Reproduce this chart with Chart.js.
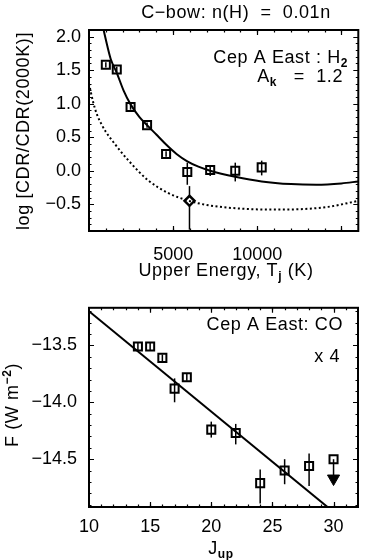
<!DOCTYPE html>
<html>
<head>
<meta charset="utf-8">
<script src="https://cdn.jsdelivr.net/npm/chart.js@4.4.1/dist/chart.umd.min.js"></script>
<style>
  html, body { margin: 0; padding: 0; background: #fff; }
  #h2Chart { position: absolute; left: 0; top: 0; }
  #coChart { position: absolute; left: 0; top: 285px; }
</style>
</head>
<body>
<canvas id="h2Chart" width="366" height="285"></canvas>
<canvas id="coChart" width="366" height="275"></canvas>
<script>
const FONT = "'Liberation Sans', Arial, sans-serif";

// Top panel - H2 column density ratio vs upper energy
const h2Energy = [1000, 1650, 2470, 3450, 4580, 5840, 7200, 8690, 10260];
const h2Ratio  = [1.58, 1.51, 0.95, 0.68, 0.25, -0.02, 0.01, 0.00, 0.05];
const h2Low    = [1.54, 1.47, 0.91, 0.64, 0.21, -0.21, -0.08, -0.16, -0.07];
const h2High   = [1.62, 1.55, 0.99, 0.72, 0.29, 0.12, 0.08, 0.12, 0.15];

const h2DiamondE    = [5970];
const h2Diamond     = [-0.45];
const h2DiamondLow  = [-0.88];
const h2DiamondHigh = [-0.23];

// C-bow model curves
const modelE     = [850, 1100, 1300, 1650, 2050, 2470, 3000, 3450, 4000, 4580, 5200, 5840, 6500, 7200, 8690, 10260, 12000, 13500, 15000, 16000];
const modelSolid = [2.12, 1.85, 1.66, 1.46, 1.20, 0.99, 0.80, 0.68, 0.54, 0.39, 0.25, 0.14, 0.06, 0.00, -0.09, -0.16, -0.20, -0.21, -0.19, -0.16];
const dottedE    = [0, 250, 500, 750, 1000, 1500, 2350, 3500, 4680, 5940, 7200, 9330, 11000, 12500, 14200, 16000];
const modelDot   = [1.30, 1.02, 0.82, 0.69, 0.58, 0.41, 0.15, -0.14, -0.33, -0.45, -0.52, -0.57, -0.58, -0.575, -0.54, -0.45];

const h2XLabels = [5000, 10000];
const h2XMajor  = [0, 5000, 10000, 15000];
const h2YTicks  = [-0.5, 0, 0.5, 1, 1.5, 2];

// Bottom panel - CO line fluxes
const coJ    = [14, 15, 16, 17, 18, 20, 22, 24, 26, 28, 30];
const coFlux = [-13.51, -13.51, -13.61, -13.88, -13.78, -14.24, -14.27, -14.71, -14.60, -14.56, -14.50];
const coLow  = [-13.54, -13.54, -13.64, -14.00, -13.81, -14.31, -14.37, -14.89, -14.72, -14.735, -14.64];
const coHigh = [-13.48, -13.48, -13.58, -13.79, -13.75, -14.17, -14.19, -14.59, -14.50, -14.45, -14.50];

const coLimitJ = [30];
const coLimit  = [-14.67];

const coFitJ = [10, 32];
const coFit  = [-13.20, -15.14];

const coXTicks = [10, 15, 20, 25, 30];
const coYTicks = [-14.5, -14.0, -13.5];

function pts(xs, ys) {
  return xs.map((x, i) => ({ x: x, y: ys[i] }));
}

function fmt(v, d) {
  return v.toFixed(d).replace('-', '\u2212');
}

// draws text with sub/superscript pieces
function richText(ctx, parts, x, y, align, rot) {
  ctx.save();
  ctx.translate(x, y);
  if (rot) ctx.rotate(rot);
  ctx.fillStyle = '#000';
  ctx.textAlign = 'left';
  ctx.textBaseline = 'alphabetic';
  ctx.letterSpacing = '0.6px';
  const fontOf = p => (p.sub || p.sup) ? 'bold 12px ' + FONT : '18px ' + FONT;
  const widths = parts.map(p => { ctx.font = fontOf(p); return ctx.measureText(p.t).width; });
  const total = widths.reduce((a, b) => a + b, 0);
  let cx = align === 'center' ? -total / 2 : align === 'right' ? -total : 0;
  parts.forEach((p, i) => {
    ctx.font = fontOf(p);
    ctx.fillText(p.t, cx, p.sub ? 4 : p.sup ? -7 : 0);
    cx += widths[i];
  });
  ctx.restore();
}

function steps(min, max, step) {
  const out = [];
  for (let k = Math.ceil(min / step - 1e-9); k * step <= max + 1e-9; k++) out.push(k * step);
  return out;
}

const decor = {
  id: 'decor',
  beforeDatasetsDraw(chart, args, o) {
    const { ctx, scales: { x, y } } = chart;
    ctx.save();
    ctx.strokeStyle = '#000';
    ctx.lineWidth = 1.5;
    (o.bars || []).forEach(b => b.x.forEach((xv, i) => {
      const px = x.getPixelForValue(xv);
      ctx.beginPath();
      ctx.moveTo(px, y.getPixelForValue(b.lo[i]));
      ctx.lineTo(px, y.getPixelForValue(b.hi[i]));
      ctx.stroke();
    }));
    ctx.restore();
  },
  afterDraw(chart, args, o) {
    const { ctx, chartArea: a, scales: { x, y } } = chart;
    ctx.save();
    ctx.strokeStyle = '#000';
    ctx.lineWidth = 1.2;
    const xt = (v, len) => {
      const px = Math.round(x.getPixelForValue(v)) + 0.5;
      if (px < a.left + 1 || px > a.right - 1) return;
      ctx.beginPath();
      ctx.moveTo(px, a.bottom); ctx.lineTo(px, a.bottom - len);
      ctx.moveTo(px, a.top); ctx.lineTo(px, a.top + len);
      ctx.stroke();
    };
    const yt = (v, len) => {
      const py = Math.round(y.getPixelForValue(v)) + 0.5;
      if (py < a.top + 1 || py > a.bottom - 1) return;
      ctx.beginPath();
      ctx.moveTo(a.left, py); ctx.lineTo(a.left + len, py);
      ctx.moveTo(a.right, py); ctx.lineTo(a.right - len, py);
      ctx.stroke();
    };
    steps(x.min, x.max, o.xMinor).forEach(v => xt(v, 2.5));
    steps(y.min, y.max, o.yMinor).forEach(v => yt(v, 2.5));
    o.xMajor.forEach(v => xt(v, 5));
    o.yMajor.forEach(v => yt(v, 5));
    ctx.lineWidth = 2;
    ctx.strokeRect(a.left, a.top, a.right - a.left, a.bottom - a.top);
    ctx.restore();
    (o.texts || []).forEach(t => richText(ctx, t.parts, t.x, t.y, t.align, t.rot));
  }
};

function axis(min, max, ticks, digits, pad, size) {
  return {
    type: 'linear',
    min: min,
    max: max,
    afterBuildTicks: s => { s.ticks = ticks.map(v => ({ value: v })); },
    afterFit: s => { if (s.isHorizontal()) s.height = size; else s.width = size; },
    grid: { display: false, drawTicks: false },
    border: { display: false },
    ticks: {
      color: '#000',
      padding: pad,
      maxRotation: 0,
      autoSkip: false,
      font: { family: FONT, size: 18 },
      callback: v => fmt(v, digits)
    }
  };
}

new Chart(document.getElementById('h2Chart'), {
  type: 'scatter',
  data: {
    datasets: [{
      data: pts(modelE, modelSolid),
      showLine: true,
      borderColor: '#000',
      borderWidth: 2,
      pointRadius: 0,
      cubicInterpolationMode: 'monotone'
    }, {
      data: pts(dottedE, modelDot),
      showLine: true,
      borderColor: '#000',
      borderWidth: 2,
      borderDash: [2, 2.5],
      pointRadius: 0,
      cubicInterpolationMode: 'monotone'
    }, {
      data: pts(h2Energy, h2Ratio),
      pointStyle: 'rect',
      pointRadius: 5.7,
      pointBorderWidth: 2,
      pointBorderColor: '#000',
      pointBackgroundColor: 'rgba(0,0,0,0)'
    }, {
      data: pts(h2DiamondE, h2Diamond),
      pointStyle: 'rectRot',
      pointRadius: 5,
      pointBorderWidth: 2.5,
      pointBorderColor: '#000',
      pointBackgroundColor: '#fff'
    }]
  },
  options: {
    responsive: false,
    animation: false,
    events: [],
    layout: { padding: { top: 30, right: 2, left: 0, bottom: 0 } },
    scales: {
      x: axis(0, 16000, h2XLabels, 0, 13, 54),
      y: axis(-0.9, 2.1, h2YTicks, 1, 8, 89)
    },
    plugins: {
      legend: { display: false },
      tooltip: { enabled: false },
      decor: {
        xMinor: 1000, yMinor: 0.1,
        xMajor: h2XMajor, yMajor: h2YTicks,
        bars: [
          { x: h2Energy, lo: h2Low, hi: h2High },
          { x: h2DiamondE, lo: h2DiamondLow, hi: h2DiamondHigh }
        ],
        texts: [
          { parts: [{ t: 'C\u2212bow: n(H)  =  0.01n' }], x: 236, y: 18, align: 'center' },
          { parts: [{ t: 'Upper Energy, T' }, { t: 'j', sub: true }, { t: ' (K)' }], x: 226, y: 276, align: 'center' },
          { parts: [{ t: 'log [CDR/CDR(2000K)]' }], x: 29, y: 131, align: 'center', rot: -Math.PI / 2 },
          { parts: [{ t: 'Cep A East : H' }, { t: '2', sub: true }], x: 348, y: 63, align: 'right' },
          { parts: [{ t: 'A' }, { t: 'k', sub: true }, { t: '   =  1.2' }], x: 343, y: 82, align: 'right' }
        ]
      }
    }
  },
  plugins: [decor]
});

new Chart(document.getElementById('coChart'), {
  type: 'scatter',
  data: {
    datasets: [{
      data: pts(coFitJ, coFit),
      showLine: true,
      borderColor: '#000',
      borderWidth: 2,
      pointRadius: 0
    }, {
      data: pts(coJ, coFlux),
      pointStyle: 'rect',
      pointRadius: 5.7,
      pointBorderWidth: 2,
      pointBorderColor: '#000',
      pointBackgroundColor: 'rgba(0,0,0,0)'
    }, {
      data: pts(coLimitJ, coLimit),
      pointStyle: 'triangle',
      rotation: 180,
      pointRadius: 7,
      pointBorderWidth: 1,
      pointBorderColor: '#000',
      pointBackgroundColor: '#000'
    }]
  },
  options: {
    responsive: false,
    animation: false,
    events: [],
    layout: { padding: { top: 18, right: 2, left: 0, bottom: 0 } },
    scales: {
      x: axis(10, 32, coXTicks, 0, 9, 53),
      y: axis(-14.92, -13.17, coYTicks, 1, 12, 89)
    },
    plugins: {
      legend: { display: false },
      tooltip: { enabled: false },
      decor: {
        xMinor: 1, yMinor: 0.1,
        xMajor: coXTicks, yMajor: coYTicks,
        bars: [{ x: coJ, lo: coLow, hi: coHigh }],
        texts: [
          { parts: [{ t: 'F (W m' }, { t: '\u22122', sup: true }, { t: ')' }], x: 18, y: 120, align: 'center', rot: -Math.PI / 2 },
          { parts: [{ t: 'J' }, { t: 'up', sub: true }], x: 221, y: 269, align: 'center' },
          { parts: [{ t: 'Cep A East: CO' }], x: 343, y: 45, align: 'right' },
          { parts: [{ t: 'x 4' }], x: 340, y: 77, align: 'right' }
        ]
      }
    }
  },
  plugins: [decor]
});
</script>
</body>
</html>
